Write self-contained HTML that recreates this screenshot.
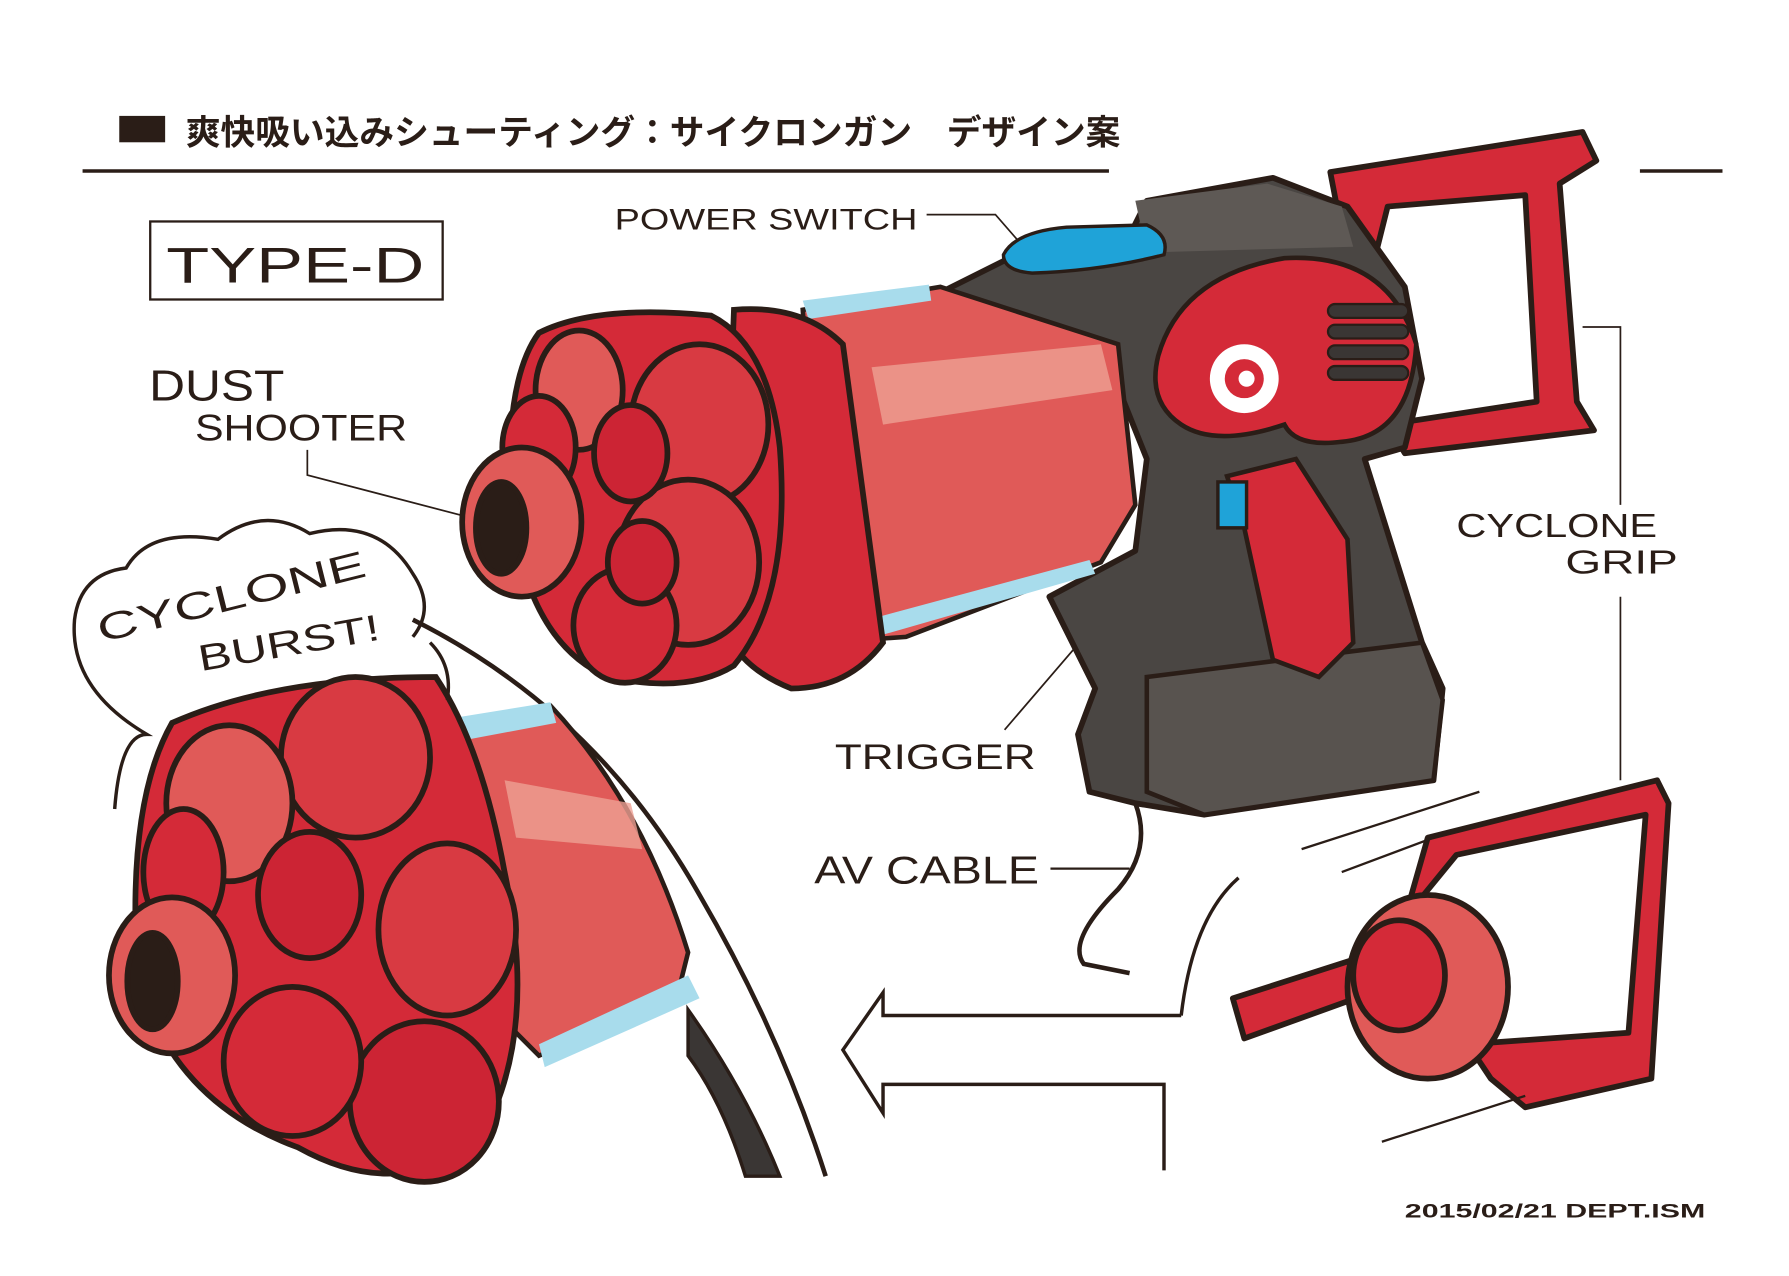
<!DOCTYPE html>
<html><head><meta charset="utf-8"><style>
html,body{margin:0;padding:0;background:#fff;}
svg{display:block;}
.h{font-family:"Liberation Sans",sans-serif;fill:#2a1d17;}
</style></head><body>
<svg width="1789" height="1276" viewBox="0 0 1560 1112" preserveAspectRatio="none" xmlns="http://www.w3.org/2000/svg">
<rect width="1560" height="1112" fill="#fff"/>
<rect x="104" y="101" width="40" height="23" fill="#2a1d17"/>
<text x="162" y="126" font-family="'Liberation Sans','Noto Sans CJK JP',sans-serif" font-weight="bold" font-size="30" fill="#2a1d17" textLength="815" lengthAdjust="spacingAndGlyphs">爽快吸い込みシューティング：サイクロンガン　デザイン案</text>
<line x1="72" y1="149" x2="967" y2="149" stroke="#2a1d17" stroke-width="3"/>
<line x1="1430" y1="149" x2="1502" y2="149" stroke="#2a1d17" stroke-width="3"/>
<rect x="131" y="193" width="255" height="68" fill="none" stroke="#2a1d17" stroke-width="2"/>
<text x="145" y="246" class="h" font-size="44" textLength="225" lengthAdjust="spacingAndGlyphs">TYPE-D</text>

<text x="536" y="200" class="h" font-size="26" textLength="264" lengthAdjust="spacingAndGlyphs">POWER SWITCH</text>
<path d="M808 187 H868 L895 218" fill="none" stroke="#2a1d17" stroke-width="1.5"/>
<text x="130" y="349" class="h" font-size="38" textLength="118" lengthAdjust="spacingAndGlyphs">DUST</text>
<text x="170" y="384" class="h" font-size="32" textLength="185" lengthAdjust="spacingAndGlyphs">SHOOTER</text>
<path d="M268 392 V414 L425 455" fill="none" stroke="#2a1d17" stroke-width="1.5"/>
<text x="1270" y="468" class="h" font-size="29" textLength="175" lengthAdjust="spacingAndGlyphs">CYCLONE</text>
<text x="1365" y="500" class="h" font-size="29" textLength="98" lengthAdjust="spacingAndGlyphs">GRIP</text>
<path d="M1380 285 H1413 V440 M1413 520 V680" fill="none" stroke="#2a1d17" stroke-width="1.5"/>
<text x="728" y="670" class="h" font-size="31" textLength="175" lengthAdjust="spacingAndGlyphs">TRIGGER</text>
<path d="M876 636 L1040 445 H1060" fill="none" stroke="#2a1d17" stroke-width="1.5"/>
<text x="710" y="770" class="h" font-size="34" textLength="196" lengthAdjust="spacingAndGlyphs">AV CABLE</text>
<path d="M916 757 H985" stroke="#2a1d17" stroke-width="2"/>
<text x="1225" y="1061" class="h" font-size="17" font-weight="bold" textLength="262" lengthAdjust="spacingAndGlyphs">2015/02/21 DEPT.ISM</text>

<path d="M1160 150 L1380 115 L1392 140 L1360 160 L1375 350 L1390 375 L1225 395 L1210 370 L1340 350 L1330 170 L1210 180 L1185 280 Z" fill="#d42a38" stroke="#2a1d17" stroke-width="5" stroke-linejoin="round"/>
<path d="M810 260 L880 225 L985 205 L1000 175 L1110 155 L1175 180 L1225 250 L1240 330 L1225 390 L1190 400 L1240 560 L1258 600 L1250 680 L1050 710 L990 700 L950 690 L940 640 L955 600 L915 520 L990 480 L1000 400 L960 300 L820 280 Z" fill="#4a4643" stroke="#2a1d17" stroke-width="5" stroke-linejoin="round"/>
<path d="M1000 590 L1240 560 L1258 610 L1250 680 L1050 710 L1000 690 Z" fill="#58534f" stroke="#2a1d17" stroke-width="4"/>
<path d="M990 175 L1105 160 L1170 180 L1180 215 L1000 220 Z" fill="#5e5955"/>
<path d="M1010 310 Q1030 240 1120 225 Q1210 220 1235 300 Q1230 380 1170 385 Q1130 390 1120 370 Q1060 390 1030 370 Q1000 350 1010 310 Z" fill="#d42a38" stroke="#2a1d17" stroke-width="4"/>
<g fill="#3a3634" stroke="#2a1d17" stroke-width="2"><rect x="1158" y="265" width="70" height="12" rx="6"/><rect x="1158" y="283" width="70" height="12" rx="6"/><rect x="1158" y="301" width="70" height="12" rx="6"/><rect x="1158" y="319" width="70" height="12" rx="6"/></g>
<circle cx="1085" cy="330" r="30" fill="#fff"/><circle cx="1085" cy="330" r="17" fill="#d42a38"/><circle cx="1087" cy="330" r="7" fill="#fff"/>
<path d="M1070 415 L1130 400 L1175 470 L1180 560 L1150 590 L1110 575 L1085 460 Z" fill="#d42a38" stroke="#2a1d17" stroke-width="4"/>
<rect x="1062" y="420" width="25" height="40" fill="#1fa3d8" stroke="#2a1d17" stroke-width="3"/>
<path d="M875 222 Q885 202 930 198 L1000 196 Q1020 205 1015 222 Q960 236 900 238 Q875 236 875 222 Z" fill="#1fa3d8" stroke="#2a1d17" stroke-width="3"/>
<path d="M990 700 Q1005 740 975 775 Q930 820 945 840 L985 848" fill="none" stroke="#2a1d17" stroke-width="4"/>
<path d="M700 270 L820 250 L975 300 L990 440 L960 490 L790 555 L720 560 Z" fill="#e05a58" stroke="#2a1d17" stroke-width="4"/>
<path d="M700 262 L810 248 L812 262 L705 278 Z" fill="#a8dcec"/>
<path d="M720 550 L950 488 L955 500 L725 566 Z" fill="#a8dcec"/>
<path d="M760 320 L960 300 L970 340 L770 370 Z" fill="#eea093" opacity="0.8"/>
<path d="M640 270 Q700 265 735 300 L770 560 Q740 600 690 600 Q640 580 630 540 Z" fill="#d42a38" stroke="#2a1d17" stroke-width="5"/>
<g stroke="#2a1d17" stroke-width="5" fill="#d42a38">
<path d="M470 290 Q520 265 620 275 Q670 300 680 390 Q690 520 640 580 Q600 605 530 590 Q460 560 445 440 Q440 330 470 290 Z"/>
<ellipse cx="505" cy="340" rx="38" ry="52" fill="#e05a58"/>
<ellipse cx="470" cy="390" rx="32" ry="45"/>
<ellipse cx="610" cy="370" rx="60" ry="70" fill="#d83a42"/>
<ellipse cx="600" cy="490" rx="62" ry="72" fill="#d83a42"/>
<ellipse cx="545" cy="545" rx="45" ry="50"/>
<ellipse cx="550" cy="395" rx="32" ry="42" fill="#cc2434"/>
<ellipse cx="560" cy="490" rx="30" ry="36" fill="#cc2434"/>
<ellipse cx="455" cy="455" rx="52" ry="65" fill="#e05a58"/>
<ellipse cx="437" cy="460" rx="22" ry="40" fill="#2a1d17"/>
</g>
<path d="M360 540 Q520 620 610 780 Q680 900 720 1025" fill="none" stroke="#2a1d17" stroke-width="4"/>
<path d="M600 880 Q650 950 680 1025 L650 1025 Q630 960 600 920 Z" fill="#3a3634" stroke="#2a1d17" stroke-width="3"/>
<path d="M400 630 L480 615 Q560 700 600 830 L590 870 L470 920 L420 870 Z" fill="#e05a58" stroke="#2a1d17" stroke-width="4"/>
<path d="M400 625 L480 612 L485 630 L405 645 Z" fill="#a8dcec"/>
<path d="M470 910 L600 850 L610 870 L475 930 Z" fill="#a8dcec"/>
<path d="M440 680 L550 700 L560 740 L450 730 Z" fill="#eea093" opacity="0.8"/>
<g stroke="#2a1d17" stroke-width="5" fill="#d42a38">
<path d="M150 630 Q240 590 380 590 Q420 650 440 760 Q470 900 420 990 Q350 1050 260 1000 Q150 960 120 850 Q110 700 150 630 Z"/>
<ellipse cx="310" cy="660" rx="65" ry="70" fill="#d83a42"/>
<ellipse cx="200" cy="700" rx="55" ry="68" fill="#e05a58"/>
<ellipse cx="160" cy="760" rx="35" ry="55"/>
<ellipse cx="390" cy="810" rx="60" ry="75" fill="#d83a42"/>
<ellipse cx="370" cy="960" rx="65" ry="70" fill="#cc2434"/>
<ellipse cx="255" cy="925" rx="60" ry="65"/>
<ellipse cx="270" cy="780" rx="45" ry="55" fill="#cc2434"/>
<ellipse cx="150" cy="850" rx="55" ry="68" fill="#e05a58"/>
<ellipse cx="133" cy="855" rx="22" ry="42" fill="#2a1d17"/>
</g>
<path d="M100 705 Q105 640 128 640 Q60 600 65 540 Q70 500 110 495 Q130 460 190 470 Q230 440 270 465 Q330 450 360 500 Q380 530 360 555" fill="none" stroke="#2a1d17" stroke-width="3"/>
<path d="M375 560 Q395 580 390 610" fill="none" stroke="#2a1d17" stroke-width="3"/>
<text x="88" y="560" class="h" font-size="33" transform="rotate(-14 88 560)" textLength="240" lengthAdjust="spacingAndGlyphs">CYCLONE</text>
<text x="175" y="585" class="h" font-size="32" transform="rotate(-10 175 585)" textLength="160" lengthAdjust="spacingAndGlyphs">BURST!</text>
<path d="M1030 885 H770 V865 L735 915 L770 970 V945 H1015 V1020 M1030 885 Q1040 800 1080 765" fill="none" stroke="#2a1d17" stroke-width="3"/>
<g stroke="#2a1d17" stroke-width="5" fill="#d42a38" stroke-linejoin="round">
<path d="M1245 730 L1445 680 L1455 700 L1440 940 L1330 965 L1300 940 L1280 910 L1420 900 L1435 710 L1270 745 L1225 800 Z"/>
<path d="M1075 870 L1200 830 L1210 860 L1085 905 Z"/>
<ellipse cx="1245" cy="860" rx="70" ry="80" fill="#e05a58"/>
<ellipse cx="1220" cy="850" rx="40" ry="48"/>
</g>
<path d="M1135 740 L1290 690 M1170 760 L1250 730 M1205 995 L1330 955" stroke="#2a1d17" stroke-width="2"/>
</svg>
</body></html>
